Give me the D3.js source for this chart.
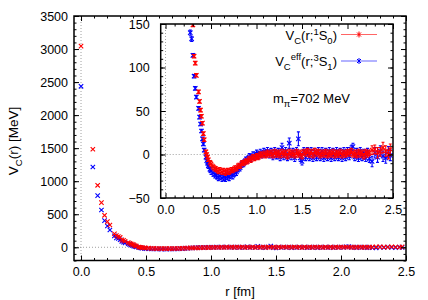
<!DOCTYPE html>
<html>
<head>
<meta charset="utf-8">
<script src="https://cdn.jsdelivr.net/npm/d3@7"></script>
<style>
body { margin: 0; background: #fff; }
svg text { font-family: "Liberation Sans", Arial, sans-serif; fill: #000; }
</style>
</head>
<body>
<div id="chart"></div>
<script>
// r [fm] of the lattice points, shared by both channels
var rValues = [0.000, 0.091, 0.128, 0.157, 0.181, 0.203, 0.222, 0.257, 0.272, 0.287, 0.301, 0.314, 0.327, 0.339,
    0.363, 0.374, 0.385, 0.395, 0.406, 0.416, 0.425, 0.444, 0.453, 0.462, 0.471, 0.488,
    0.50, 0.52, 0.54, 0.56, 0.58, 0.60, 0.62, 0.64, 0.66, 0.68, 0.70, 0.72, 0.74, 0.76, 0.78, 0.80,
    0.82, 0.84, 0.86, 0.88, 0.90, 0.92, 0.94, 0.96, 0.98, 1.00, 1.02, 1.04, 1.06, 1.08, 1.10,
    1.12, 1.14, 1.16, 1.18, 1.20, 1.22, 1.24, 1.26, 1.28, 1.30, 1.32, 1.34, 1.36, 1.38, 1.40,
    1.42, 1.44, 1.46, 1.48, 1.50, 1.52, 1.54, 1.56, 1.58, 1.60, 1.62, 1.64, 1.66, 1.68, 1.70,
    1.72, 1.74, 1.76, 1.78, 1.80, 1.82, 1.84, 1.86, 1.88, 1.90, 1.92, 1.94, 1.96, 1.98, 2.00,
    2.02, 2.04, 2.06, 2.08, 2.10, 2.12, 2.14, 2.16, 2.18, 2.20, 2.22, 2.24,
    2.27, 2.30, 2.33, 2.36, 2.39, 2.42, 2.45, 2.47];

// V_C(r; 1S0) [MeV]
var v1S0 = [3045, 1483, 938, 675, 484, 388, 337, 205, 178, 162, 149, 113, 105, 91,
    72, 61, 51, 44, 36, 24, 17, 3, 0, -3, -6, -9,
    -11, -14, -16, -17, -19, -18, -20, -19, -21, -19, -20, -18, -18, -16, -16, -13,
    -13, -10, -10, -8, -8, -5, -6, -3, -4, -2, -3, 0, -1, 1, -1,
    2, 0, 2, -1, 3, 0, 2, -1, 3, 0, 2, -2, 3, 0, 2,
    -1, 3, 0, 2, -2, 3, 1, 4, 0, 3, -1, 4, 1, 3, -1,
    2, 0, 3, -1, 2, 0, 3, -1, 2, 0, 3, -1, 2, 0, 3,
    1, 4, 0, 2, -1, 3, 0, 2, -2, 3, 0, 2,
    5, 6, 2, 3, 8, 4, 0, 6];
var e1S0 = [3, 3, 3, 3, 3, 3, 3, 3, 3, 3, 2, 2, 2, 2,
    2, 2, 2, 2, 2, 2, 2, 2, 2, 2, 2, 2,
    3, 3, 3, 3, 3, 3, 3, 3, 3, 3, 3, 3, 3, 3, 3, 3,
    3, 3, 3, 3, 3, 3, 3, 3, 3, 3, 3, 3, 3, 3, 3,
    3, 3, 3, 3, 3, 3, 3, 3, 3, 3, 3, 3, 3, 3, 3,
    3, 3, 3, 3, 3, 3, 3, 3, 3, 3, 3, 3, 3, 3, 3,
    3, 3, 3, 3, 3, 3, 3, 3, 3, 3, 3, 3, 3, 3, 3,
    3, 3, 3, 3, 3, 3, 3, 3, 3, 3, 3, 3,
    5, 5, 6, 5, 6, 6, 5, 6];

// V_C^eff(r; 3S1) [MeV]
var v3S1 = [2436, 1215, 781, 564, 403, 322, 262, 172, 140, 133, 114, 90, 76, 66,
    53, 43, 35, 27, 18, 12, 5, -3, -7, -10, -13, -17,
    -19, -21, -23, -24, -26, -25, -27, -26, -27, -25, -26, -23, -24, -21, -20, -16,
    -15, -11, -10, -7, -6, -3, -4, -1, -2, 1, -1, 2, 0, 3, 1,
    4, 0, 3, -2, 4, -1, 3, -3, 8, -2, 4, -3, 13, -2, 3,
    -4, 4, 18, -4, -8, 4, -3, 4, -3, 4, -4, 3, -3, 4, -3,
    4, -4, 3, -3, 4, -4, 3, -3, 4, -3, 3, -4, 4, -3, 4,
    -2, 6, 9, -3, 3, -4, 4, -3, 2, -4, 3, -5,
    -8, 2, -3, 4, -2, -4, 3, -1];
var e3S1 = [3, 3, 3, 3, 3, 3, 3, 3, 3, 3, 2, 2, 2, 2,
    2, 2, 2, 2, 2, 2, 2, 3, 3, 3, 3, 3,
    4, 4, 4, 4, 4, 4, 4, 4, 4, 4, 4, 4, 4, 4, 4, 4,
    4, 4, 4, 4, 4, 4, 4, 4, 4, 4, 4, 4, 4, 4, 4,
    4, 4, 4, 4, 4, 4, 4, 4, 5, 4, 4, 4, 6, 4, 4,
    4, 4, 8, 4, 4, 4, 4, 4, 4, 4, 4, 4, 4, 4, 4,
    4, 4, 4, 4, 4, 4, 4, 4, 4, 4, 4, 4, 4, 4, 4,
    4, 4, 4, 4, 4, 4, 4, 4, 4, 4, 4, 4,
    6, 6, 6, 6, 6, 6, 6, 6];

var rTicks = [0, 0.5, 1.0, 1.5, 2.0, 2.5];
var mainVTicks = [0, 500, 1000, 1500, 2000, 2500, 3000, 3500];
var insetVTicks = [-50, 0, 50, 100, 150];

var svg = d3.select('#chart')
    .append('svg')
    .attr('width', 428)
    .attr('height', 300);

function drawPanel(p) {
    var g = svg.append('g');

    var x = d3.scaleLinear().domain(p.xDomain).range([p.left, p.right]);
    var y = d3.scaleLinear().domain(p.yDomain).range([p.bottom, p.top]);

    g.append('rect')
        .attr('x', p.left).attr('y', p.top)
        .attr('width', p.right - p.left).attr('height', p.bottom - p.top)
        .attr('fill', '#fff');

    g.append('clipPath').attr('id', p.id)
        .append('rect')
        .attr('x', p.left).attr('y', p.top)
        .attr('width', p.right - p.left).attr('height', p.bottom - p.top);

    // dotted zero lines
    g.append('line')
        .attr('x1', p.left).attr('x2', p.right)
        .attr('y1', y(0)).attr('y2', y(0))
        .attr('stroke', '#888').attr('stroke-width', 0.8)
        .attr('stroke-dasharray', '1,2');
    g.append('line')
        .attr('x1', x(0)).attr('x2', x(0))
        .attr('y1', p.top).attr('y2', p.bottom)
        .attr('stroke', '#888').attr('stroke-width', 0.8)
        .attr('stroke-dasharray', '1,2');

    var dataG = g.append('g').attr('clip-path', 'url(#' + p.id + ')');
    drawSeries(dataG, x, y, v3S1, e3S1, '#0000ff', p.caps);
    drawSeries(dataG, x, y, v1S0, e1S0, '#ff0000', p.caps);

    // ticks pointing inwards on all four sides
    var minorX = d3.range(0, 2.501, 0.1).filter(function(d) { return Math.abs(d * 2 - Math.round(d * 2)) > 0.01; });
    var minorY = d3.range(p.yDomain[0], p.yDomain[1] + 0.01, p.yMinor);

    var axes = [
        { axis: d3.axisBottom(x), t: 'translate(0,' + p.bottom + ')', ticks: rTicks, minor: minorX, labels: true },
        { axis: d3.axisTop(x), t: 'translate(0,' + p.top + ')', ticks: rTicks, minor: minorX, labels: false },
        { axis: d3.axisLeft(y), t: 'translate(' + p.left + ',0)', ticks: p.yTicks, minor: minorY, labels: true },
        { axis: d3.axisRight(y), t: 'translate(' + p.right + ',0)', ticks: p.yTicks, minor: minorY, labels: false }
    ];
    axes.forEach(function(a, i) {
        var vertical = i >= 2;
        var major = a.axis.tickValues(a.ticks).tickSizeInner(-5).tickSizeOuter(0)
            .tickPadding(vertical ? p.yPad : p.xPad)
            .tickFormat(a.labels ? (vertical ? d3.format('d') : d3.format('.1f')) : '');
        var ga = g.append('g').attr('transform', a.t).call(major);
        ga.select('.domain').remove();
        ga.selectAll('text').style('font-size', '12.5px').attr('fill', '#000');

        var minorAxis = (i === 0 ? d3.axisBottom(x) : i === 1 ? d3.axisTop(x) : i === 2 ? d3.axisLeft(y) : d3.axisRight(y))
            .tickValues(a.minor).tickSizeInner(-2.5).tickSizeOuter(0).tickFormat('');
        var gm = g.append('g').attr('transform', a.t).call(minorAxis);
        gm.select('.domain').remove();
    });
    g.selectAll('.tick line').attr('stroke', '#000').attr('stroke-width', 1);

    g.append('rect')
        .attr('x', p.left).attr('y', p.top)
        .attr('width', p.right - p.left).attr('height', p.bottom - p.top)
        .attr('fill', 'none').attr('stroke', '#000').attr('stroke-width', 1.5);

    return { x: x, y: y, g: g };
}

function drawSeries(g, x, y, values, errors, color, caps) {
    var pts = g.selectAll(null)
        .data(values)
        .enter()
        .append('g')
        .attr('stroke', color)
        .attr('stroke-width', 1.1)
        .attr('fill', 'none');

    pts.append('path')
        .attr('d', function(d, i) {
            var cx = x(rValues[i]), hi = y(d + errors[i]), lo = y(d - errors[i]);
            var s = 'M' + cx + ',' + lo + 'V' + hi;
            if (caps) {
                s += 'M' + (cx - 1.5) + ',' + hi + 'H' + (cx + 1.5) +
                    'M' + (cx - 1.5) + ',' + lo + 'H' + (cx + 1.5);
            }
            return s;
        });
    pts.append('path')
        .attr('d', function(d, i) {
            var cx = x(rValues[i]), cy = y(d);
            return 'M' + (cx - 2.2) + ',' + (cy - 2.2) + 'L' + (cx + 2.2) + ',' + (cy + 2.2) +
                'M' + (cx - 2.2) + ',' + (cy + 2.2) + 'L' + (cx + 2.2) + ',' + (cy - 2.2);
        });
}

// main panel
drawPanel({
    id: 'clipMain', left: 74, right: 406, top: 16, bottom: 260.5,
    xDomain: [-0.054, 2.5], yDomain: [-200, 3500],
    yTicks: mainVTicks, yMinor: 100, xPad: 7, yPad: 6, caps: false
});

// inset
drawPanel({
    id: 'clipInset', left: 160.7, right: 393, top: 24, bottom: 198,
    xDomain: [-0.053, 2.5], yDomain: [-50, 150],
    yTicks: insetVTicks, yMinor: 10, xPad: 7, yPad: 11, caps: true
});

// axis titles
svg.append('text')
    .attr('x', 240).attr('y', 296)
    .attr('text-anchor', 'middle')
    .style('font-size', '13px')
    .text('r [fm]');

var yTitle = svg.append('text')
    .attr('transform', 'translate(18,141) rotate(-90)')
    .attr('text-anchor', 'middle')
    .style('font-size', '13.5px');
yTitle.append('tspan').text('V');
yTitle.append('tspan').attr('dy', 4).style('font-size', '9.5px').text('C');
yTitle.append('tspan').attr('dy', -4).text('(r) [MeV]');

// legend
function legendEntry(ly, color, build) {
    var t = svg.append('text')
        .attr('x', 337).attr('y', ly + 5)
        .attr('text-anchor', 'end')
        .style('font-size', '13px');
    build(t);
    svg.append('line')
        .attr('x1', 341).attr('x2', 377)
        .attr('y1', ly).attr('y2', ly)
        .attr('stroke', color).attr('stroke-width', 1).attr('opacity', 0.6);
    svg.append('path')
        .attr('d', 'M357,' + (ly - 2) + 'L361,' + (ly + 2) + 'M357,' + (ly + 2) + 'L361,' + (ly - 2) +
            'M359,' + (ly - 3) + 'V' + (ly + 3))
        .attr('stroke', color).attr('stroke-width', 1).attr('fill', 'none');
}

legendEntry(34.5, '#ff0000', function(t) {
    t.append('tspan').text('V');
    t.append('tspan').attr('dy', 4).style('font-size', '9.5px').text('C');
    t.append('tspan').attr('dy', -4).text('(r;');
    t.append('tspan').attr('dy', -5).style('font-size', '9.5px').text('1');
    t.append('tspan').attr('dy', 5).text('S');
    t.append('tspan').attr('dy', 4).style('font-size', '9.5px').text('0');
    t.append('tspan').attr('dy', -4).text(')');
});

legendEntry(61, '#0000ff', function(t) {
    t.append('tspan').text('V');
    t.append('tspan').attr('dy', 4).style('font-size', '9.5px').text('C');
    t.append('tspan').attr('dy', -10).style('font-size', '9.5px').text('eff');
    t.append('tspan').attr('dy', 6).text('(r;');
    t.append('tspan').attr('dy', -5).style('font-size', '9.5px').text('3');
    t.append('tspan').attr('dy', 5).text('S');
    t.append('tspan').attr('dy', 4).style('font-size', '9.5px').text('1');
    t.append('tspan').attr('dy', -4).text(')');
});

var mLabel = svg.append('text')
    .attr('x', 273).attr('y', 103)
    .style('font-size', '13px');
mLabel.append('tspan').text('m');
mLabel.append('tspan').attr('dy', 4).style('font-size', '9.5px').text('π');
mLabel.append('tspan').attr('dy', -4).text('=702 MeV');
</script>
</body>
</html>
